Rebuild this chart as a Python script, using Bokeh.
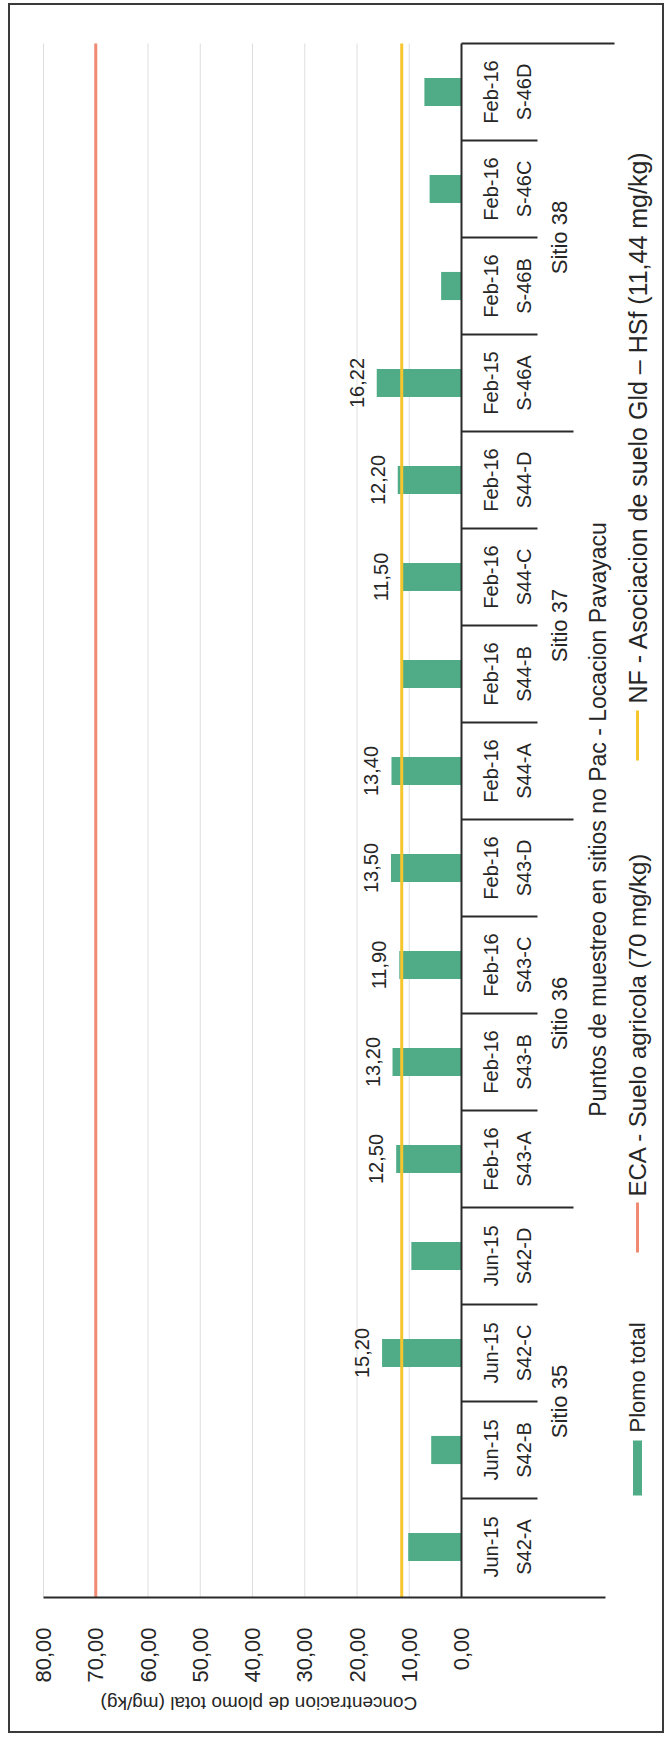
import math
from bokeh.plotting import figure
from bokeh.models import Range1d, FixedTicker, Label, ColumnDataSource, LinearAxis
from bokeh.core.properties import value
from bokeh.embed import file_html
from bokeh.resources import INLINE

# ---------------- data ----------------
SAMPLES = ["S42-A", "S42-B", "S42-C", "S42-D",
           "S43-A", "S43-B", "S43-C", "S43-D",
           "S44-A", "S44-B", "S44-C", "S44-D",
           "S-46A", "S-46B", "S-46C", "S-46D"]
DATES = ["Jun-15", "Jun-15", "Jun-15", "Jun-15",
         "Feb-16", "Feb-16", "Feb-16", "Feb-16",
         "Feb-16", "Feb-16", "Feb-16", "Feb-16",
         "Feb-15", "Feb-16", "Feb-16", "Feb-16"]
SITES = ["Sitio 35", "Sitio 35", "Sitio 35", "Sitio 35",
         "Sitio 36", "Sitio 36", "Sitio 36", "Sitio 36",
         "Sitio 37", "Sitio 37", "Sitio 37", "Sitio 37",
         "Sitio 38", "Sitio 38", "Sitio 38", "Sitio 38"]
PLOMO = [10.2, 5.8, 15.20, 9.6,
         12.50, 13.20, 11.90, 13.50,
         13.40, 11.40, 11.50, 12.20,
         16.22, 3.9, 6.1, 7.1]
ECA = 70.0      # ECA - Suelo agricola
NF = 11.44      # NF - Asociacion de suelo Gld - HSf
TICKS = [0, 10, 20, 30, 40, 50, 60, 70, 80]
TICK_LABELS = ["0,00", "10,00", "20,00", "30,00", "40,00", "50,00", "60,00", "70,00", "80,00"]

AXIS_TITLE = "Concentracion de plomo total (mg/kg)"
CAT_TITLE = "Puntos de muestreo en sitios no Pac - Locacion Pavayacu"
LEG_PLOMO = "Plomo total"
LEG_ECA = "ECA - Suelo agricola (70 mg/kg)"
LEG_NF = "NF - Asociacion de suelo Gld \u2013 HSf (11,44 mg/kg)"

# ---------------- style / layout ----------------
FONT = "Liberation Sans"
TXT = "#262626"
GREEN = "#4fac86"
RED = "#f08a72"
YELLOW = "#f6c62e"
LINE = "#2a2a2a"
BORDER = "#3a3a3a"
GRID = "#dedede"

# the canvas sits at page (10, 5) inside a 2px CSS border
ORIGIN_X, ORIGIN_Y = 10, 5
FW, FH = 652, 1592        # plot frame size
BOTTOM = 134              # room below the frame for the value axis
F_TOP = ORIGIN_Y
F_BOT = ORIGIN_Y + FH
PX_ZERO, PX_80 = 461.0, 43.0
PPU = (PX_ZERO - PX_80) / 80.0
BAND = 97.0               # px per sample band
PY_ZERO = 1595.0          # page y of the lowest band edge
N = len(SAMPLES)
YPOS = [i + 0.5 for i in range(N)]   # band centres on the category scale


def xv(px):
    return (PX_ZERO - px) / PPU


def sy(py):
    return (PY_ZERO - py) / BAND


X0, X1 = xv(ORIGIN_X), xv(ORIGIN_X + FW)
Y0, Y1 = sy(F_BOT), sy(F_TOP)

p = figure(frame_width=FW, frame_height=FH, output_backend="svg", toolbar_location=None,
           title=None, x_range=Range1d(X0, X1), y_range=Range1d(Y0, Y1),
           y_axis_location=None,
           min_border_left=0, min_border_right=0, min_border_top=0, min_border_bottom=BOTTOM)
p.outline_line_color = None
p.xgrid.visible = False
p.ygrid.visible = False
p.styles = {"border": "2px solid " + BORDER, "margin-left": "8px", "margin-top": "3px"}

# value axis (bottom of the rotated chart)
ax = p.xaxis[0]
ax.ticker = FixedTicker(ticks=TICKS)
ax.major_label_overrides = {t: s for t, s in zip(TICKS, TICK_LABELS)}
ax.major_label_orientation = math.pi / 2
ax.major_tick_line_color = None
ax.minor_tick_line_color = None
ax.major_tick_out = 0
ax.minor_tick_out = 0
ax.major_label_standoff = 30
ax.major_label_text_font = FONT
ax.major_label_text_font_size = "22px"
ax.major_label_text_color = TXT
ax.axis_line_color = LINE
ax.axis_line_width = 2
ax.bounds = (xv(605), TICKS[-1])

# value axis title, upside down like the rotated original (a second, line-less axis)
TITLE_AT = round(xv(100), 3)
title_axis = LinearAxis(ticker=FixedTicker(ticks=[TITLE_AT]),
                        major_label_overrides={TITLE_AT: AXIS_TITLE},
                        major_label_orientation=math.pi,
                        major_label_standoff=18,
                        major_label_text_font=FONT,
                        major_label_text_font_size="19px",
                        major_label_text_color=TXT,
                        major_tick_out=0, minor_tick_out=0,
                        axis_line_color=None, major_tick_line_color=None,
                        minor_tick_line_color=None)
p.add_layout(title_axis, "below")

# grid lines (from the value axis up to the top of the category table)
grid_x = TICKS[1:]
p.segment(x0=grid_x, x1=grid_x, y0=[Y0] * len(grid_x), y1=[N] * len(grid_x),
          line_color=GRID, line_width=1)

src = ColumnDataSource(dict(
    y=YPOS, sample=SAMPLES, plomo=PLOMO, date=DATES,
    lbl=[("%.2f" % v).replace(".", ",") if v > NF else "" for v in PLOMO],
))

# bars
p.hbar(y="y", left=0, right="plomo", height=0.29, source=src,
       fill_color=GREEN, line_color=None)

# reference lines: ECA (red) and NF (yellow)
p.segment(x0=[ECA], x1=[ECA], y0=[Y0], y1=[N], line_color=RED, line_width=3)
p.segment(x0=[NF], x1=[NF], y0=[Y0], y1=[N], line_color=YELLOW, line_width=3)

# category axis line
p.segment(x0=[0], x1=[0], y0=[Y0], y1=[N], line_color=LINE, line_width=2)

# value labels
p.text(x="plomo", y="y", text="lbl", source=src, angle=math.pi / 2,
       text_align="center", text_baseline="middle", x_offset=-20,
       text_font=value(FONT), text_font_size="20px", text_color=TXT)

# category table lines
x_inner, x_group, x_top = xv(537), xv(573), xv(614)
seg_y, seg_x1 = [], []
for i in range(1, N):
    seg_y.append(i)
    seg_x1.append(x_group if SITES[i] != SITES[i - 1] else x_inner)
seg_y.append(N)
seg_x1.append(x_top)
p.segment(x0=[0] * len(seg_y), y0=seg_y, x1=seg_x1, y1=seg_y,
          line_color=LINE, line_width=2)

# category labels (date / sample)
p.text(x=xv(490), y="y", text="date", source=src, angle=math.pi / 2,
       text_align="center", text_baseline="middle",
       text_font=value(FONT), text_font_size="20px", text_color=TXT)
p.text(x=xv(523), y="y", text="sample", source=src, angle=math.pi / 2,
       text_align="center", text_baseline="middle",
       text_font=value(FONT), text_font_size="20px", text_color=TXT)

# site labels
site_names, site_y = [], []
start = 0
for i in range(1, N + 1):
    if i == N or SITES[i] != SITES[start]:
        site_names.append(SITES[start])
        site_y.append((start + i) / 2.0)
        start = i
p.text(x=[xv(559)] * len(site_names), y=site_y, text=site_names, angle=math.pi / 2,
       text_align="center", text_baseline="middle",
       text_font=value(FONT), text_font_size="22px", text_color=TXT)

# category axis title
p.add_layout(Label(x=xv(597), y=N / 2.0, text=CAT_TITLE, angle=math.pi / 2,
                   text_align="center", text_baseline="middle",
                   text_font=FONT, text_font_size="23px", text_color=TXT))

# legend
x_leg = xv(637)
p.quad(left=[x_leg + 4.5 / PPU], right=[x_leg - 4.5 / PPU], bottom=[sy(1495)], top=[sy(1440)],
       fill_color=GREEN, line_color=None)
p.segment(x0=[x_leg, x_leg], x1=[x_leg, x_leg], y0=[sy(1252), sy(760)], y1=[sy(1202), sy(710)],
          line_color=[RED, YELLOW], line_width=3)
for txt, py, fs in [(LEG_PLOMO, 1432, "22px"), (LEG_ECA, 1196, "24px"), (LEG_NF, 703, "25px")]:
    p.add_layout(Label(x=x_leg, y=sy(py), text=txt, angle=math.pi / 2,
                       text_align="left", text_baseline="middle",
                       text_font=FONT, text_font_size=fs, text_color=TXT))

open("out.html", "w").write(file_html(p, INLINE))
